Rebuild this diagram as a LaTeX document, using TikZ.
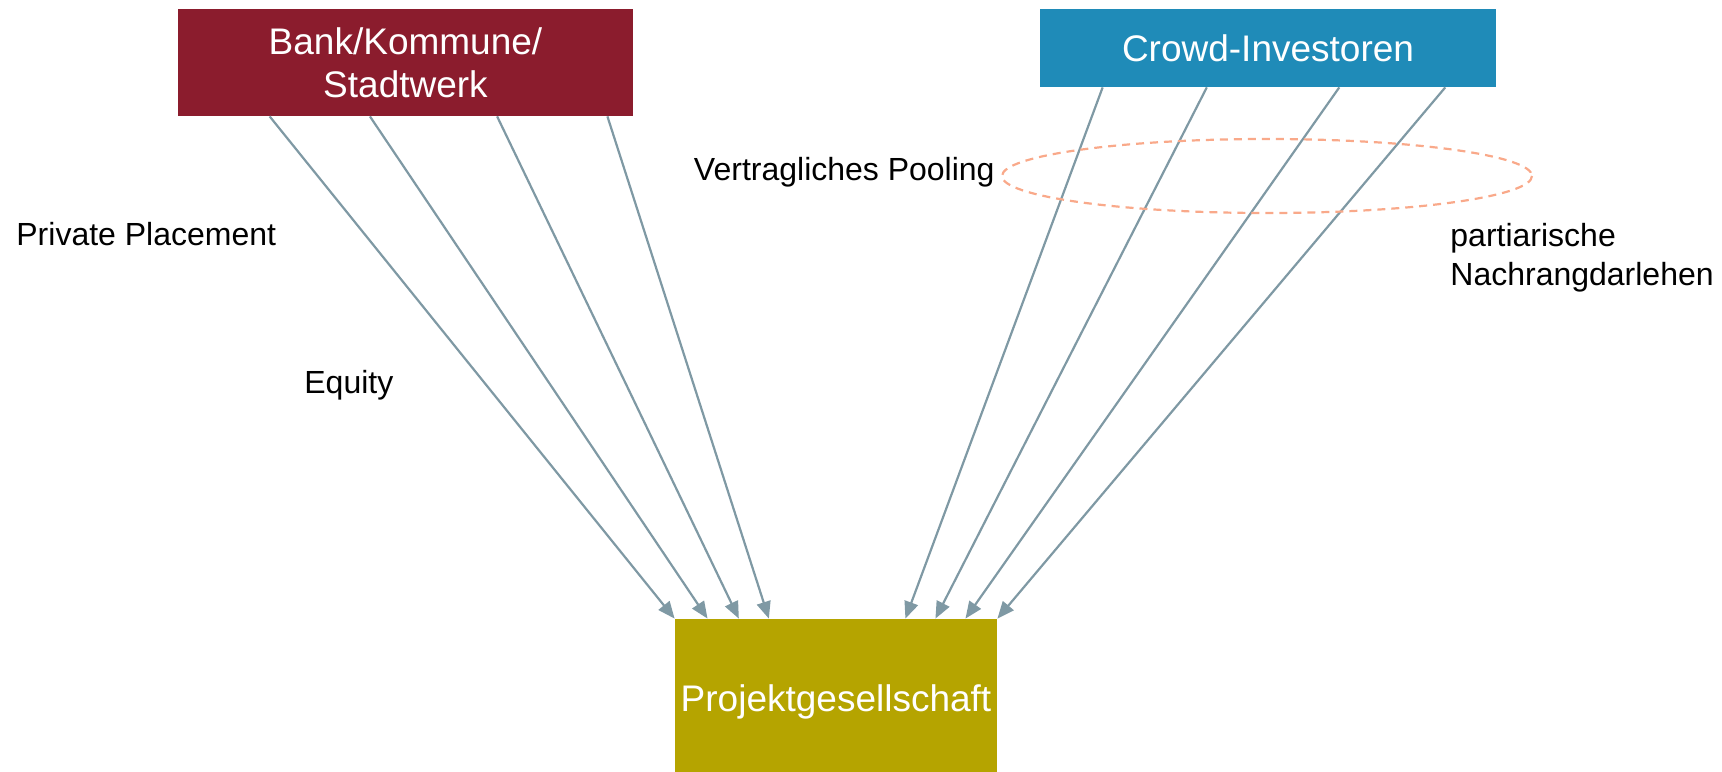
\documentclass[tikz,border=0pt]{standalone}
\usepackage{fontspec}
\setmainfont{Liberation Sans}
\usetikzlibrary{calc,arrows.meta}
\definecolor{bankred}{HTML}{8B1C2D}
\definecolor{crowdblue}{HTML}{1F8BB8}
\definecolor{pgolive}{HTML}{B5A400}
\definecolor{flowgrey}{HTML}{7F99A4}
\definecolor{poolsalmon}{HTML}{F9A98A}
\tikzset{
    box/.style={rectangle,inner sep=0pt,text=white,align=center,
      font=\fontsize{18.5}{21.5}\selectfont},
    lbl/.style={inner sep=0pt,align=left,font=\fontsize{16}{19.5}\selectfont},
    flow/.style={draw=flowgrey,line width=1.1pt,-{Triangle[length=8.5pt,width=7pt]}},
  }
\begin{document}
\begin{tikzpicture}[x=0.5pt,y=-0.5pt]
				  \useasboundingbox (0,0) rectangle (1722,771);
				  
				   %BOXES
				  \node[box,fill=bankred,minimum width=227.5pt,minimum height=53.5pt] (bank) at (405.5,62.5) {Bank/Kommune/\\Stadtwerk};
				  \node[box,fill=crowdblue,minimum width=228pt,minimum height=39pt] (crowd) at (1268,48) {Crowd-Investoren};
				  \node[box,fill=pgolive,minimum width=161pt,minimum height=83pt] (pg) at (836,702) {Projektgesellschaft};
				  
				  %FLOWS
				  \foreach \s/\e in {0.202/0.0,0.422/0.102,0.701/0.199,0.943/0.292}
				    \draw[flow] ($(bank.south west)!\s!(bank.south east)$) -- ($(pg.north west)!\e!(pg.north east)$);
				  \foreach \s/\e in {0.138/0.715,0.366/0.808,0.656/0.901,0.888/1.0}
				    \draw[flow] ($(crowd.south west)!\s!(crowd.south east)$) -- ($(pg.north west)!\e!(pg.north east)$);
				  
				  %POOLING
				  \draw[poolsalmon,line width=1.1pt,dash pattern=on 4pt off 3pt] (1267,176) ellipse [x radius=265,y radius=37];
				  
				  %LABELS
				  \node[lbl,anchor=east] (pool) at (995,172) {Vertragliches Pooling};
				  \node[lbl,anchor=west] (pp) at (16,234) {Private Placement};
				  \node[lbl,anchor=west] (eq) at (304,385) {Equity};
				  \node[lbl,anchor=west] (pn) at (1450,258) {partiarische\\Nachrangdarlehen};
				  \end{tikzpicture}
\end{document}
